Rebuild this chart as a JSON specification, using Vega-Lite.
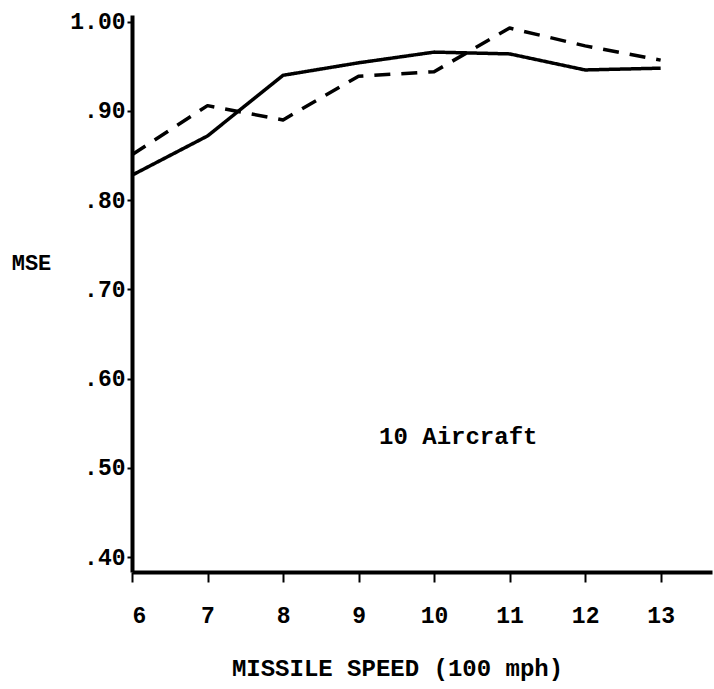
{
  "$schema": "https://vega.github.io/schema/vega-lite/v6.json",
  "width": 580,
  "height": 557,
  "autosize": {"type": "none"},
  "padding": {"left": 132, "top": 15, "right": 2, "bottom": 117},
  "background": "white",
  "config": {
    "view": {"stroke": null},
    "font": "Liberation Mono",
    "axis": {
      "domainColor": "black",
      "domainWidth": 4,
      "tickColor": "black",
      "tickWidth": 2,
      "labelColor": "black",
      "labelFont": "Liberation Mono",
      "labelFontWeight": "bold",
      "labelFontSize": 23,
      "titleColor": "black",
      "titleFont": "Liberation Mono",
      "titleFontWeight": "bold",
      "titleFontSize": 24,
      "grid": false
    }
  },
  "datasets": {
    "mse": [
      {"speed": 6, "mse": 0.828, "series": "Series 1"},
      {"speed": 7, "mse": 0.872, "series": "Series 1"},
      {"speed": 8, "mse": 0.940, "series": "Series 1"},
      {"speed": 9, "mse": 0.954, "series": "Series 1"},
      {"speed": 10, "mse": 0.966, "series": "Series 1"},
      {"speed": 11, "mse": 0.964, "series": "Series 1"},
      {"speed": 12, "mse": 0.946, "series": "Series 1"},
      {"speed": 13, "mse": 0.948, "series": "Series 1"},
      {"speed": 6, "mse": 0.851, "series": "Series 2"},
      {"speed": 7, "mse": 0.906, "series": "Series 2"},
      {"speed": 8, "mse": 0.890, "series": "Series 2"},
      {"speed": 9, "mse": 0.939, "series": "Series 2"},
      {"speed": 10, "mse": 0.944, "series": "Series 2"},
      {"speed": 11, "mse": 0.993, "series": "Series 2"},
      {"speed": 12, "mse": 0.973, "series": "Series 2"},
      {"speed": 13, "mse": 0.957, "series": "Series 2"}
    ],
    "notes": [
      {"speed": 10.32, "mse": 0.535, "text": "10 Aircraft"}
    ]
  },
  "layer": [
    {
      "data": {"name": "mse"},
      "mark": {
        "type": "line",
        "color": "black",
        "strokeWidth": 3.5,
        "strokeCap": "butt",
        "strokeJoin": "round"
      },
      "encoding": {
        "x": {
          "field": "speed",
          "type": "quantitative",
          "scale": {"domain": [6, 13.68], "nice": false, "zero": false},
          "axis": {
            "values": [6, 7, 8, 9, 10, 11, 12, 13],
            "format": "d",
            "tickSize": 10,
            "labelPadding": 22,
            "title": "MISSILE SPEED (100 mph)",
            "titleX": 265,
            "titleY": 96,
            "titleAlign": "center",
            "titleBaseline": "middle"
          }
        },
        "y": {
          "field": "mse",
          "type": "quantitative",
          "scale": {"domain": [0.3832, 1.0076], "nice": false, "zero": false},
          "axis": {
            "values": [0.4, 0.5, 0.6, 0.7, 0.8, 0.9, 1.0],
            "labelExpr": "replace(format(datum.value, '.2f'), '0.', '.')",
            "tickSize": 5,
            "labelPadding": 2,
            "title": "MSE",
            "titleAngle": 0,
            "titleFontSize": 22,
            "titleX": -101,
            "titleY": 247,
            "titleAlign": "center",
            "titleBaseline": "middle"
          }
        },
        "detail": {"field": "series", "type": "nominal"},
        "strokeDash": {
          "field": "series",
          "type": "nominal",
          "scale": {"domain": ["Series 1", "Series 2"], "range": [[1, 0], [16, 11]]},
          "legend": null
        }
      }
    },
    {
      "data": {"name": "notes"},
      "mark": {
        "type": "text",
        "font": "Liberation Mono",
        "fontWeight": "bold",
        "fontSize": 24,
        "color": "black",
        "align": "center",
        "baseline": "middle"
      },
      "encoding": {
        "x": {"field": "speed", "type": "quantitative"},
        "y": {"field": "mse", "type": "quantitative"},
        "text": {"field": "text"}
      }
    }
  ]
}
